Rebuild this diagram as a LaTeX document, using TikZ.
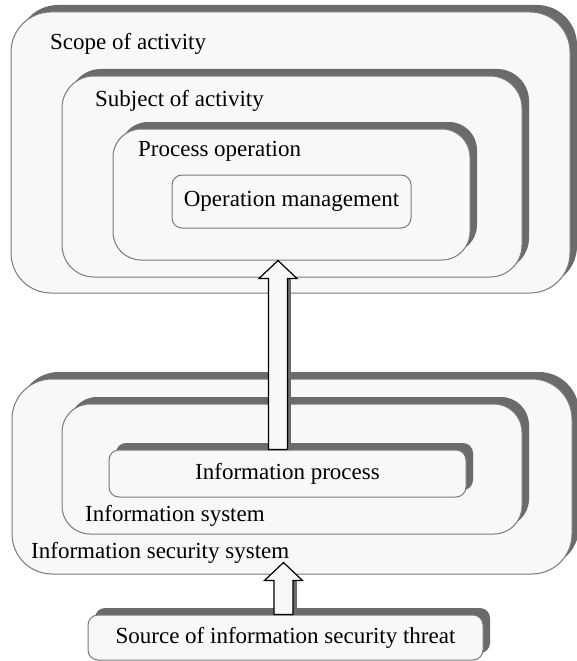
\documentclass[tikz,border=0pt]{standalone}
\usepackage{fontspec}
\setmainfont{Liberation Serif}
\usetikzlibrary{shadows,calc}
\definecolor{boxfill}{HTML}{F8F8F8}
\definecolor{boxline}{HTML}{7A7A7A}
\definecolor{shadowgray}{HTML}{6B6B6B}
\newcommand\blockarrow[2]{%
 \fill[shadowgray] let \p1=#1, \p2=#2 in (\x1+9.5pt,\y1) rectangle (\x1+13pt,\y2-18pt);
 \draw[black, line width=1.2pt, fill=boxfill, line join=miter] let \p1=#1, \p2=#2 in
 (\x1-9.5pt,\y1) -- (\x1-9.5pt,\y2-18pt) -- (\x1-19pt,\y2-18pt) -- (\x2,\y2) -- (\x1+19pt,\y2-18pt) -- (\x1+9.5pt,\y2-18pt) -- (\x1+9.5pt,\y1) -- cycle;}
\begin{document}
\begin{tikzpicture}[x=1pt,y=-1pt,
 box/.style={draw=boxline, line width=1pt, fill=boxfill, rectangle, inner sep=0pt, font=\fontsize{23}{27}\selectfont, text=black},
 shbox/.style={box, drop shadow={shadow xshift=7pt, shadow yshift=7pt, fill=shadowgray, opacity=1}},
 lbl/.style={inner sep=0pt, anchor=west, font=\fontsize{23}{27}\selectfont, text=black}]
\useasboundingbox (0,0) rectangle (576,661);
% upper group
\node[shbox, rounded corners=40pt, minimum width=559pt, minimum height=281pt] (scope) at (290.5,152.5) {};
\node[lbl] (scopet) at (50,44) {Scope of activity};
\node[shbox, rounded corners=32pt, minimum width=460pt, minimum height=201pt] (subj) at (292,176.5) {};
\node[lbl] (subjt) at (95,101) {Subject of activity};
\node[shbox, rounded corners=28pt, minimum width=357pt, minimum height=131pt] (po) at (291.5,194.5) {};
\node[lbl] (pot) at (138,151) {Process operation};
\node[box, rounded corners=10pt, minimum width=239pt, minimum height=53pt] (om) at (291.5,201.5) {Operation management};
% lower group
\node[shbox, rounded corners=40pt, minimum width=560pt, minimum height=195pt] (iss) at (292,476.5) {};
\node[shbox, rounded corners=28pt, minimum width=460pt, minimum height=130pt] (is) at (292,469) {};
\node[shbox, rounded corners=10pt, minimum width=357pt, minimum height=47pt] (ip) at (287.5,473.5) {Information process};
\node[lbl] (ist) at (85,516) {Information system};
\node[lbl] (isst) at (31,553) {Information security system};
\node[shbox, rounded corners=10pt, minimum width=395pt, minimum height=45pt] (src) at (285.5,637.5) {Source of information security threat};
% arrows
\coordinate (ax1) at (278,0);
\coordinate (ax2) at (283.5,0);
\blockarrow{(ip.north -| ax1)}{(po.south -| ax1)}
\blockarrow{(src.north -| ax2)}{($(iss.south -| ax2)+(0,-12)$)}
\end{tikzpicture}
\end{document}
